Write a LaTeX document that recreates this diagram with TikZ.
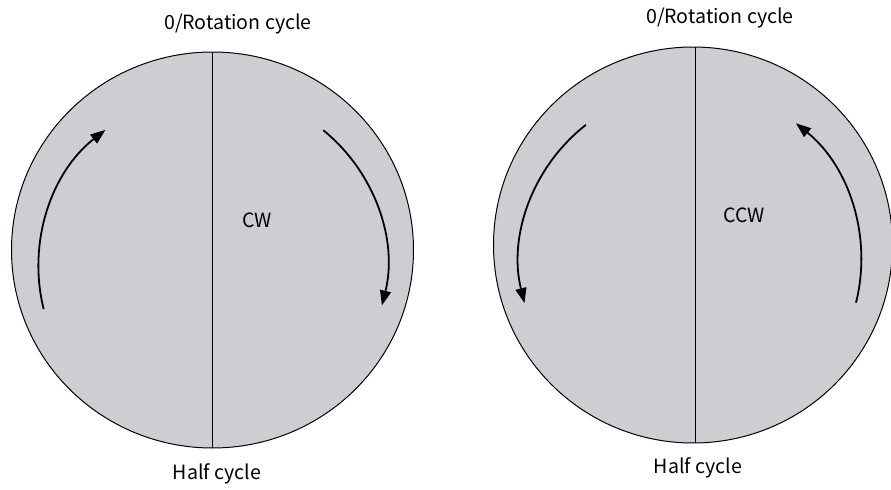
\documentclass[tikz,border=0pt]{standalone}
\usepackage{fontspec}
\setmainfont{Noto Sans CJK SC}
\usetikzlibrary{arrows.meta}
\definecolor{discgray}{RGB}{205,206,210}

\begin{document}
\begin{tikzpicture}[x=0.5pt, y=0.5pt,
    disc/.style={draw=black, line width=0.5pt, fill=discgray},
    turn/.style={line width=0.9pt, -{Triangle[length=7.5pt, width=5.5pt]}},
    lbl/.style={font=\fontsize{9.8}{12}\selectfont, inner sep=0pt}]
    \useasboundingbox (0,0) rectangle (891,489);

    % Disco izquierdo: CW
    \draw[disc] (212.5,239) ellipse [x radius=201, y radius=198];
    \coordinate (ltop) at (212.5,437);
    \coordinate (lbot) at (212.5,41);
    \draw[line width=0.5pt] (ltop) -- (lbot);
    \coordinate (lc) at (212.5,222);
    \draw[turn] ([shift={(194:174)}]lc) arc[start angle=194, end angle=128, radius=174];
    \draw[turn] ([shift={(51:176)}]lc) arc[start angle=51, end angle=-14, radius=172];

    % Disco derecho: CCW
    \draw[disc] (693,244) ellipse [x radius=199.5, y radius=198];
    \coordinate (rtop) at (695,442);
    \coordinate (rbot) at (695,46);
    \draw[line width=0.5pt] (rtop) -- (rbot);
    \coordinate (rc) at (693,227);
    \draw[turn] ([shift={(128:174)}]rc) arc[start angle=128, end angle=194, radius=173];
    \draw[turn] ([shift={(-14:168)}]rc) arc[start angle=-14, end angle=51, radius=176];

    % Etiquetas
    \node[lbl] (lzero) at (238,465) {0/Rotation cycle};
    \node[lbl] (lhalf) at (217,15) {Half cycle};
    \node[lbl] (lcw) at (257,269) {CW};
    \node[lbl] (rzero) at (720,471) {0/Rotation cycle};
    \node[lbl] (rhalf) at (698,21) {Half cycle};
    \node[lbl] (rccw) at (744,274) {CCW};
\end{tikzpicture}
\end{document}
